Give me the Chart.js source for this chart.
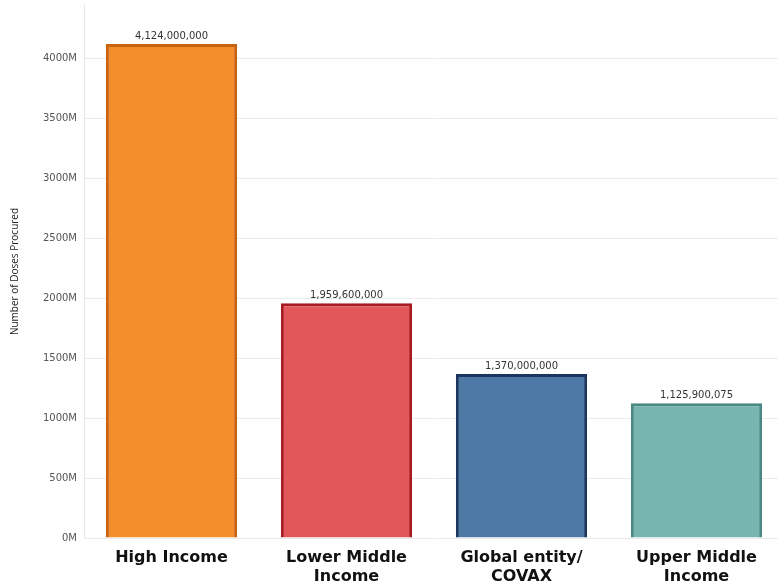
<!DOCTYPE html>
<html>
<head>
<meta charset="utf-8">
<script src="https://cdn.jsdelivr.net/npm/chart.js@4.4.0/dist/chart.umd.min.js"></script>
<style>
  html, body { margin: 0; padding: 0; background: #fff; overflow: hidden; }
  #wrap { width: 790px; height: 584px; }
</style>
</head>
<body>
<div id="wrap"><canvas id="dosesChart" width="790" height="584"></canvas></div>
<script>
// Doses procured by income group (bar chart with value labels).

const categories = [['High Income'], ['Lower Middle', 'Income'], ['Global entity/', 'COVAX'], ['Upper Middle', 'Income']];
const doses = [4124000000, 1959600000, 1370000000, 1125900075];
const yTicks = [0, 500e6, 1000e6, 1500e6, 2000e6, 2500e6, 3000e6, 3500e6, 4000e6];
const fillColors = ['#f28e2b', '#e1575a', '#4e79a7', '#76b5b0'];
const edgeColors = ['#c9620f', '#a81a22', '#1b365e', '#4a8983'];

const valueLabels = {
    id: 'valueLabels',
    afterDatasetsDraw(chart) {
        const ctx = chart.ctx;
        const meta = chart.getDatasetMeta(0);
        ctx.save();
        ctx.font = '10px "DejaVu Sans", sans-serif';
        ctx.fillStyle = '#333';
        ctx.textAlign = 'center';
        ctx.textBaseline = 'alphabetic';
        meta.data.forEach((bar, i) => {
            ctx.fillText(doses[i].toLocaleString('en-US'), bar.x, bar.y - 5);
        });
        ctx.restore();
    }
};

new Chart(document.getElementById('dosesChart').getContext('2d'), {
    type: 'bar',
    data: {
        labels: categories,
        datasets: [{
            data: doses,
            backgroundColor: fillColors,
            borderColor: edgeColors,
            borderWidth: 3,
            categoryPercentage: 0.75,
            barPercentage: 1.0
        }]
    },
    options: {
        responsive: false, animation: false,
        layout: { padding: { top: 5, right: 6, left: 0, bottom: 0 } },
        plugins: { legend: { display: false }, tooltip: { enabled: false } },
        scales: {
            x: {
                grid: { display: false },
                border: { display: false },
                ticks: {
                    color: '#111', padding: 2,
                    font: { family: '"DejaVu Sans", sans-serif', size: 16, weight: 'bold', lineHeight: 1.2 },
                    maxRotation: 0, autoSkip: false
                },
                afterFit: s => { s.height = 46; s.paddingLeft = 0; s.paddingRight = 0; }
            },
            y: {
                min: 0, max: 4450000000,
                grid: { color: '#ebebeb', lineWidth: 1, drawTicks: false },
                border: { display: true, color: '#e6e6e6' },
                ticks: {
                    padding: 7, color: '#555',
                    font: { family: '"DejaVu Sans", sans-serif', size: 10 },
                    callback: v => (v / 1e6) + 'M'
                },
                afterBuildTicks: s => { s.ticks = yTicks.map(v => ({ value: v })); },
                title: {
                    display: true, text: 'Number of Doses Procured', color: '#222',
                    font: { family: '"Open Sans", sans-serif', size: 10 },
                    padding: { top: 9, bottom: 0 }
                },
                afterFit: s => { s.width = 84; s.paddingTop = 0; s.paddingBottom = 0; }
            }
        }
    },
    plugins: [valueLabels]
});
</script>
</body>
</html>
